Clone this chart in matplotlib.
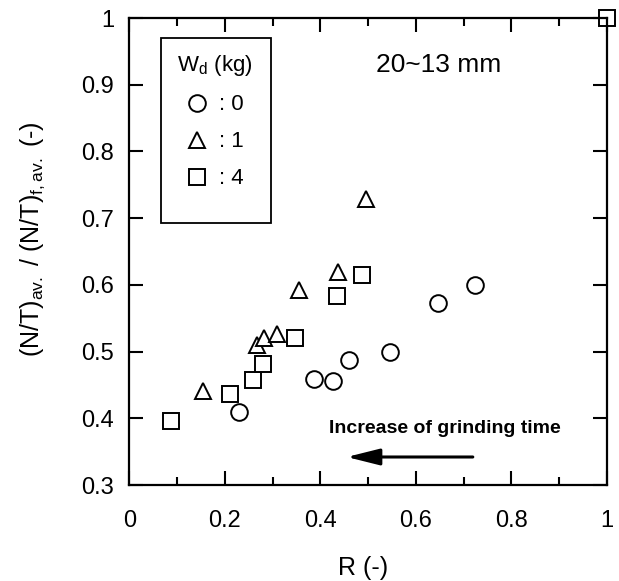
import matplotlib
matplotlib.use('Agg')
import matplotlib.pyplot as plt
from matplotlib.patches import Rectangle
from matplotlib.ticker import MultipleLocator

plt.rcParams['font.family'] = ['Liberation Sans', 'DejaVu Sans']
plt.rcParams['mathtext.fontset'] = 'custom'
plt.rcParams['mathtext.rm'] = 'Liberation Sans'

# W_d = 0 kg
r_w0 = [0.230, 0.386, 0.426, 0.459, 0.546, 0.647, 0.723]
nt_w0 = [0.410, 0.459, 0.456, 0.488, 0.499, 0.573, 0.600]
# W_d = 1 kg
r_w1 = [0.153, 0.267, 0.282, 0.309, 0.355, 0.437, 0.495]
nt_w1 = [0.441, 0.510, 0.521, 0.526, 0.592, 0.620, 0.729]
# W_d = 4 kg
r_w4 = [0.086, 0.211, 0.259, 0.280, 0.347, 0.434, 0.487, 1.0]
nt_w4 = [0.396, 0.436, 0.458, 0.481, 0.521, 0.583, 0.615, 1.0]

fig = plt.figure(figsize=(6.19, 5.81), dpi=100)
ax = fig.add_axes([0.2092, 0.1652, 0.7714, 0.8038])

mk = dict(linestyle='none', markerfacecolor='white', markeredgecolor='black',
          markeredgewidth=1.4, clip_on=False)
h0, = ax.plot(r_w0, nt_w0, marker='o', markersize=12, label=': 0', **mk)
h1, = ax.plot(r_w1, nt_w1, marker='^', markersize=12, label=': 1', **mk)
h4, = ax.plot(r_w4, nt_w4, marker='s', markersize=11, label=': 4', **mk)

ax.set_xlim(0, 1)
ax.set_ylim(0.3, 1)
ax.xaxis.set_major_locator(MultipleLocator(0.2))
ax.xaxis.set_minor_locator(MultipleLocator(0.1))
ax.yaxis.set_major_locator(MultipleLocator(0.1))
ax.xaxis.set_major_formatter(lambda v, p: f'{v:g}')
ax.yaxis.set_major_formatter(lambda v, p: f'{v:g}')

for s in ax.spines.values():
    s.set_linewidth(1.6)
ax.tick_params(which='both', direction='in', top=True, right=True, width=1.5)
ax.tick_params(which='major', length=10, labelsize=17)
ax.tick_params(which='minor', length=6)
ax.tick_params(axis='x', pad=18)
ax.tick_params(axis='y', pad=11)

ax.set_xlabel('R (-)', fontsize=18)
ax.xaxis.set_label_coords(0.49, -0.152)
ax.set_ylabel('(N/T)$_\\mathregular{av.}$ / (N/T)$_\\mathregular{f,av.}$ (-)', fontsize=18)
ax.yaxis.set_label_coords(-0.172, 0.527)

# legend box
ax.add_patch(Rectangle((0.067, 0.562), 0.229, 0.395, transform=ax.transAxes,
                       facecolor='white', edgecolor='black', linewidth=1.3, zorder=3))
leg = ax.legend(handles=[h0, h1, h4], title='W$_\\mathregular{d}$ (kg)',
                loc='upper left', bbox_to_anchor=(0.058, 0.967), frameon=False,
                fontsize=16, title_fontsize=16, handlelength=1.0,
                handletextpad=0.5, labelspacing=0.72, borderpad=0.4)
leg.set_zorder(4)

ax.text(0.647, 0.93, '20~13 mm', fontsize=19, ha='center', va='center')
ax.text(0.661, 0.385, 'Increase of grinding time', fontsize=14, fontweight='bold',
        ha='center', va='center')
ax.annotate('', xy=(0.455, 0.342), xytext=(0.719, 0.342),
            arrowprops=dict(arrowstyle='-|>,head_length=1.0,head_width=0.25',
                            mutation_scale=20, color='black', lw=2.2,
                            shrinkA=0, shrinkB=0))

fig.savefig('out.png', dpi=100)
